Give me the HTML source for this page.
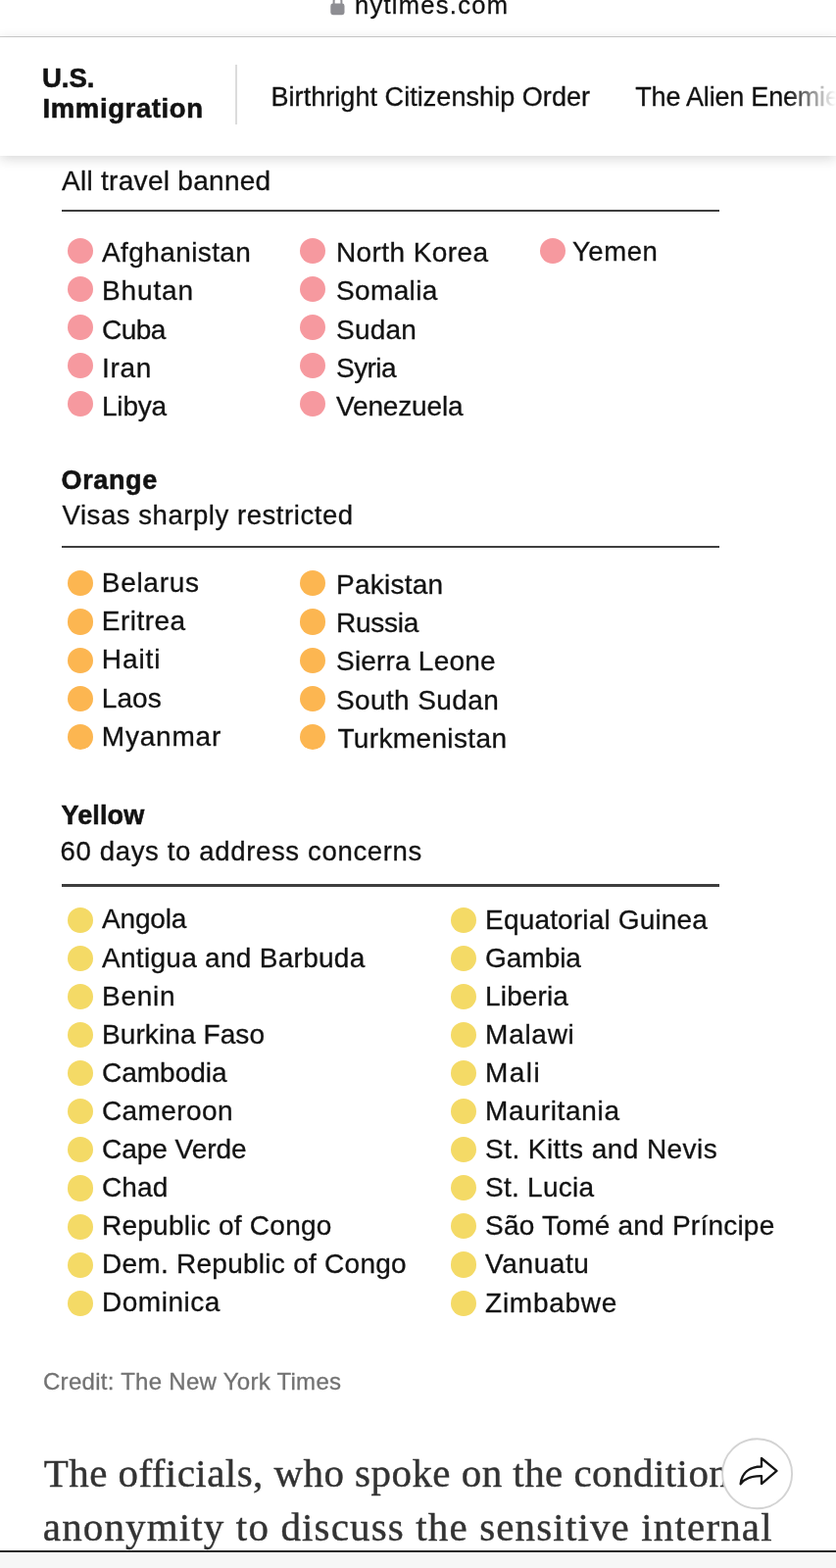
<!DOCTYPE html>
<html lang="en">
<head>
<meta charset="utf-8">
<title>U.S. Immigration - The New York Times</title>
<style>
html,body{margin:0;padding:0;background:#fff;}
body{width:853px;height:1600px;position:relative;overflow:hidden;font-family:"Liberation Sans", Arial, sans-serif;color:#121212;-webkit-font-smoothing:antialiased;}
.t{-webkit-text-stroke:0.3px currentColor;position:absolute;white-space:nowrap;line-height:40px;height:40px;display:block;}
.b{-webkit-text-stroke:0.55px currentColor;}
.serif{font-family:"Liberation Serif", "Times New Roman", serif;-webkit-text-stroke:0.4px currentColor;}
.d{position:absolute;width:26.1px;height:26.1px;border-radius:50%;display:block;}
.rule{position:absolute;left:63px;width:671px;height:2.2px;background:#3e3e3e;}
#urlbar{position:absolute;left:0;top:0;width:853px;height:37px;background:#fff;border-bottom:1.4px solid #cfcfcf;overflow:hidden;}
#nav{position:absolute;left:0;top:38.4px;width:853px;height:121px;background:#fff;box-shadow:0 3px 12px rgba(0,0,0,0.16);z-index:5;overflow:hidden;}
#nav .t{margin-top:-38.4px;}
#sep{position:absolute;left:240.2px;top:28px;width:1.6px;height:61px;background:#dcdcdc;}
#fade{position:absolute;right:0;top:0;width:50px;height:121px;background:linear-gradient(to right,rgba(255,255,255,0),rgba(255,255,255,1));}
#lock{position:absolute;left:336.6px;top:-5.2px;}
#share{position:absolute;left:735px;top:1465.5px;width:76px;height:76px;z-index:4;}
#share svg{position:absolute;left:0;top:0;}
#bottombar{position:absolute;left:0;top:1581.7px;width:853px;height:20px;background:#f6f6f6;z-index:6;}
#bottombar i{position:absolute;left:0;top:0;width:853px;height:2.4px;background:#2a2a2a;display:block;}
</style>
</head>
<body>
<div id="urlbar">
<svg id="lock" width="15" height="21" viewBox="0 0 15 21"><path d="M3.6 9V6.2a3.9 3.9 0 0 1 7.8 0V9" fill="none" stroke="#8e8e93" stroke-width="2"/><rect x="0.3" y="8.6" width="14.2" height="11.6" rx="2.4" fill="#8e8e93"/></svg>
<span class="t" id="url" style="left:362.00px;top:-15.24px;font-size:25.5px;color:#111;letter-spacing:1.280px;">nytimes.com</span>
</div>
<nav id="nav">
<span class="t b" id="us" style="left:43.00px;top:60.27px;font-size:27.5px;font-weight:700;">U.S.</span>
<span class="t b" id="imm" style="left:43.50px;top:90.67px;font-size:27.5px;font-weight:700;letter-spacing:0.620px;">Immigration</span>
<div id="sep"></div>
<span class="t" id="bco" style="left:276.50px;top:78.64px;font-size:27px;letter-spacing:0.052px;">Birthright Citizenship Order</span>
<span class="t" id="tae" style="left:648.3px;top:78.64px;font-size:27px;letter-spacing:-0.2px;">The Alien Enemies Act</span>
<div id="fade"></div>
</nav>
<main>
<section id="red">
<span class="t" id="h1s" style="left:63.00px;top:164.80px;font-size:28px;letter-spacing:0.288px;">All travel banned</span>
<div class="rule" style="top:214.2px"></div>
<i class="d" style="left:68.75px;top:242.75px;background:#f6999f"></i>
<i class="d" style="left:68.75px;top:281.85px;background:#f6999f"></i>
<i class="d" style="left:68.75px;top:320.95px;background:#f6999f"></i>
<i class="d" style="left:68.75px;top:360.05px;background:#f6999f"></i>
<i class="d" style="left:68.75px;top:399.15px;background:#f6999f"></i>
<span class="t" id="r1_0" style="left:104.00px;top:238.30px;font-size:28px;letter-spacing:0.400px;">Afghanistan</span>
<span class="t" id="r1_1" style="left:104.00px;top:277.40px;font-size:28px;letter-spacing:0.880px;">Bhutan</span>
<span class="t" id="r1_2" style="left:104.00px;top:316.50px;font-size:28px;letter-spacing:-0.533px;">Cuba</span>
<span class="t" id="r1_3" style="left:104.00px;top:355.60px;font-size:28px;letter-spacing:0.667px;">Iran</span>
<span class="t" id="r1_4" style="left:104.00px;top:394.70px;font-size:28px;letter-spacing:-0.200px;">Libya</span>
<i class="d" style="left:305.55px;top:242.75px;background:#f6999f"></i>
<i class="d" style="left:305.55px;top:281.85px;background:#f6999f"></i>
<i class="d" style="left:305.55px;top:320.95px;background:#f6999f"></i>
<i class="d" style="left:305.55px;top:360.05px;background:#f6999f"></i>
<i class="d" style="left:305.55px;top:399.15px;background:#f6999f"></i>
<span class="t" id="r2_0" style="left:343.00px;top:238.30px;font-size:28px;letter-spacing:0.400px;">North Korea</span>
<span class="t" id="r2_1" style="left:343.00px;top:277.40px;font-size:28px;letter-spacing:0.367px;">Somalia</span>
<span class="t" id="r2_2" style="left:343.00px;top:316.50px;font-size:28px;letter-spacing:0.200px;">Sudan</span>
<span class="t" id="r2_3" style="left:343.00px;top:355.60px;font-size:28px;letter-spacing:-0.550px;">Syria</span>
<span class="t" id="r2_4" style="left:343.00px;top:394.70px;font-size:28px;letter-spacing:-0.150px;">Venezuela</span>
<i class="d" style="left:551.15px;top:242.75px;background:#f6999f"></i>
<span class="t" id="yemen" style="left:584.00px;top:237.37px;font-size:27.5px;letter-spacing:0.550px;">Yemen</span>
</section>
<section id="orange">
<span class="t b" id="h2" style="left:62.50px;top:469.54px;font-size:27px;font-weight:700;letter-spacing:0.640px;">Orange</span>
<span class="t" id="h2s" style="left:63.50px;top:505.57px;font-size:27.5px;letter-spacing:0.557px;">Visas sharply restricted</span>
<div class="rule" style="top:556.9px"></div>
<i class="d" style="left:68.80px;top:582.35px;background:#fcb651"></i>
<i class="d" style="left:68.80px;top:621.45px;background:#fcb651"></i>
<i class="d" style="left:68.80px;top:660.55px;background:#fcb651"></i>
<i class="d" style="left:68.80px;top:699.65px;background:#fcb651"></i>
<i class="d" style="left:68.80px;top:738.75px;background:#fcb651"></i>
<span class="t" id="o1_0" style="left:103.80px;top:575.20px;font-size:28px;letter-spacing:0.700px;">Belarus</span>
<span class="t" id="o1_1" style="left:103.80px;top:614.30px;font-size:28px;letter-spacing:0.467px;">Eritrea</span>
<span class="t" id="o1_2" style="left:103.80px;top:653.40px;font-size:28px;letter-spacing:0.900px;">Haiti</span>
<span class="t" id="o1_3" style="left:103.80px;top:692.50px;font-size:28px;letter-spacing:0.067px;">Laos</span>
<span class="t" id="o1_4" style="left:103.80px;top:731.60px;font-size:28px;letter-spacing:0.800px;">Myanmar</span>
<i class="d" style="left:305.55px;top:582.35px;background:#fcb651"></i>
<i class="d" style="left:305.55px;top:621.45px;background:#fcb651"></i>
<i class="d" style="left:305.55px;top:660.55px;background:#fcb651"></i>
<i class="d" style="left:305.55px;top:699.65px;background:#fcb651"></i>
<i class="d" style="left:305.55px;top:738.75px;background:#fcb651"></i>
<span class="t" id="o2_0" style="left:343.00px;top:577.20px;font-size:28px;letter-spacing:0.257px;">Pakistan</span>
<span class="t" id="o2_1" style="left:343.00px;top:616.30px;font-size:28px;letter-spacing:-0.240px;">Russia</span>
<span class="t" id="o2_2" style="left:343.00px;top:655.40px;font-size:28px;letter-spacing:0.200px;">Sierra Leone</span>
<span class="t" id="o2_3" style="left:343.00px;top:694.50px;font-size:28px;letter-spacing:0.380px;">South Sudan</span>
<span class="t" id="o2_4" style="left:344.40px;top:733.60px;font-size:28px;letter-spacing:0.364px;">Turkmenistan</span>
</section>
<section id="yellow">
<span class="t b" id="h3" style="left:62.50px;top:811.64px;font-size:27px;font-weight:700;letter-spacing:0.120px;">Yellow</span>
<span class="t" id="h3s" style="left:61.50px;top:848.67px;font-size:27.5px;letter-spacing:0.662px;">60 days to address concerns</span>
<div class="rule" style="top:902.4px"></div>
<i class="d" style="left:68.85px;top:925.75px;background:#f4da66"></i>
<i class="d" style="left:68.85px;top:964.85px;background:#f4da66"></i>
<i class="d" style="left:68.85px;top:1003.95px;background:#f4da66"></i>
<i class="d" style="left:68.85px;top:1043.05px;background:#f4da66"></i>
<i class="d" style="left:68.85px;top:1082.15px;background:#f4da66"></i>
<i class="d" style="left:68.85px;top:1121.25px;background:#f4da66"></i>
<i class="d" style="left:68.85px;top:1160.35px;background:#f4da66"></i>
<i class="d" style="left:68.85px;top:1199.45px;background:#f4da66"></i>
<i class="d" style="left:68.85px;top:1238.55px;background:#f4da66"></i>
<i class="d" style="left:68.85px;top:1277.65px;background:#f4da66"></i>
<i class="d" style="left:68.85px;top:1316.75px;background:#f4da66"></i>
<span class="t" id="y1_0" style="left:104.00px;top:918.40px;font-size:28px;letter-spacing:-0.160px;">Angola</span>
<span class="t" id="y1_1" style="left:104.00px;top:957.50px;font-size:28px;letter-spacing:0.289px;">Antigua and Barbuda</span>
<span class="t" id="y1_2" style="left:104.00px;top:996.60px;font-size:28px;letter-spacing:0.750px;">Benin</span>
<span class="t" id="y1_3" style="left:104.00px;top:1035.70px;font-size:28px;letter-spacing:0.091px;">Burkina Faso</span>
<span class="t" id="y1_4" style="left:104.00px;top:1074.80px;font-size:28px;">Cambodia</span>
<span class="t" id="y1_5" style="left:104.00px;top:1113.90px;font-size:28px;letter-spacing:0.400px;">Cameroon</span>
<span class="t" id="y1_6" style="left:104.00px;top:1153.00px;font-size:28px;letter-spacing:-0.022px;">Cape Verde</span>
<span class="t" id="y1_7" style="left:104.00px;top:1192.10px;font-size:28px;letter-spacing:0.133px;">Chad</span>
<span class="t" id="y1_8" style="left:104.00px;top:1231.20px;font-size:28px;letter-spacing:0.250px;">Republic of Congo</span>
<span class="t" id="y1_9" style="left:104.00px;top:1270.30px;font-size:28px;letter-spacing:0.267px;">Dem. Republic of Congo</span>
<span class="t" id="y1_10" style="left:104.00px;top:1309.40px;font-size:28px;letter-spacing:0.514px;">Dominica</span>
<i class="d" style="left:459.95px;top:925.55px;background:#f4da66"></i>
<i class="d" style="left:459.95px;top:964.65px;background:#f4da66"></i>
<i class="d" style="left:459.95px;top:1003.75px;background:#f4da66"></i>
<i class="d" style="left:459.95px;top:1042.85px;background:#f4da66"></i>
<i class="d" style="left:459.95px;top:1081.95px;background:#f4da66"></i>
<i class="d" style="left:459.95px;top:1121.05px;background:#f4da66"></i>
<i class="d" style="left:459.95px;top:1160.15px;background:#f4da66"></i>
<i class="d" style="left:459.95px;top:1199.25px;background:#f4da66"></i>
<i class="d" style="left:459.95px;top:1238.35px;background:#f4da66"></i>
<i class="d" style="left:459.95px;top:1277.45px;background:#f4da66"></i>
<i class="d" style="left:459.95px;top:1316.55px;background:#f4da66"></i>
<span class="t" id="y2_0" style="left:495.10px;top:918.50px;font-size:28px;letter-spacing:0.162px;">Equatorial Guinea</span>
<span class="t" id="y2_1" style="left:495.10px;top:957.60px;font-size:28px;letter-spacing:-0.040px;">Gambia</span>
<span class="t" id="y2_2" style="left:495.10px;top:996.70px;font-size:28px;letter-spacing:0.133px;">Liberia</span>
<span class="t" id="y2_3" style="left:495.10px;top:1035.80px;font-size:28px;letter-spacing:0.720px;">Malawi</span>
<span class="t" id="y2_4" style="left:495.10px;top:1074.90px;font-size:28px;letter-spacing:1.400px;">Mali</span>
<span class="t" id="y2_5" style="left:495.10px;top:1114.00px;font-size:28px;letter-spacing:0.689px;">Mauritania</span>
<span class="t" id="y2_6" style="left:495.10px;top:1153.10px;font-size:28px;letter-spacing:0.433px;">St. Kitts and Nevis</span>
<span class="t" id="y2_7" style="left:495.10px;top:1192.20px;font-size:28px;letter-spacing:0.250px;">St. Lucia</span>
<span class="t" id="y2_8" style="left:495.10px;top:1231.30px;font-size:28px;letter-spacing:0.230px;">São Tomé and Príncipe</span>
<span class="t" id="y2_9" style="left:495.10px;top:1270.40px;font-size:28px;letter-spacing:0.600px;">Vanuatu</span>
<span class="t" id="y2_10" style="left:495.10px;top:1309.50px;font-size:28px;letter-spacing:0.714px;">Zimbabwe</span>
</section>
<span class="t" id="credit" style="left:44.00px;top:1389.98px;font-size:24px;color:#727272;letter-spacing:0.280px;">Credit: The New York Times</span>
<article>
<span class="t serif" id="b1" style="left:44.70px;top:1483.16px;font-size:41px;color:#333;letter-spacing:0.447px;">The officials, who spoke on the condition of</span>
<span class="t serif" id="b2" style="left:43.80px;top:1537.56px;font-size:41px;color:#333;letter-spacing:1.143px;">anonymity to discuss the sensitive internal</span>
</article>
</main>
<div id="share"><svg width="76" height="76" viewBox="0 0 76 76"><circle cx="37.6" cy="37.8" r="35.5" fill="#fff" stroke="#d3d3d3" stroke-width="1.9"/><path d="M42 22 L57.5 34.9 L42 48.1 V40.1 C34 39.9 26 41.3 20.6 48.3 C21.7 37.5 29 30.7 42 30.5 Z" fill="none" stroke="#151515" stroke-width="2.3" stroke-linejoin="round"/></svg></div>
<div id="bottombar"><i></i></div>
</body>
</html>
